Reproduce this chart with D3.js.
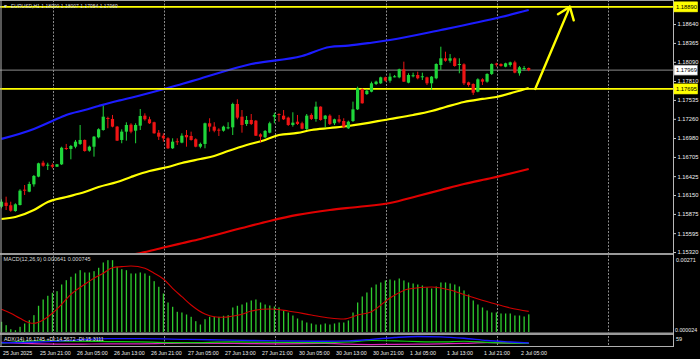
<!DOCTYPE html>
<html><head><meta charset="utf-8">
<script src="https://cdnjs.cloudflare.com/ajax/libs/d3/7.8.5/d3.min.js"></script>
<style>html,body{margin:0;padding:0;background:#000;overflow:hidden}text{font-family:"Liberation Sans",Arial,sans-serif}</style>
</head><body><svg id="c" width="700" height="359"></svg>
<script>
// ---------------- DATA ----------------
const chartTitle = "EURUSD,H1  1.18000 1.18007 1.17954 1.17969";
const macdTitle = "MACD(12,26,9) 0.000641 0.000745";
const adxTitle = "ADX(14) 16.1745 +DI:14.5672 -DI:15.3111";

const open = [1.15980,1.16039,1.16001,1.15917,1.16005,1.16228,1.16199,1.16306,1.16418,1.16621,
1.16583,1.16587,1.16563,1.16597,1.16835,1.16821,1.16854,1.16894,1.16952,1.16796,
1.16854,1.16991,1.17097,1.17272,1.17258,1.17146,1.16952,1.17073,1.17175,1.17087,
1.17160,1.17306,1.17253,1.17210,1.17058,1.17014,1.16976,1.16831,1.16933,1.16913,
1.17024,1.17010,1.16962,1.16854,1.16894,1.17195,1.17146,1.17102,1.17087,1.17127,
1.17136,1.17476,1.17291,1.17185,1.17243,1.17233,1.17034,1.16991,1.17058,1.17291,
1.17330,1.17306,1.17277,1.17170,1.17218,1.17195,1.17112,1.17316,1.17258,1.17437,
1.17258,1.17306,1.17195,1.17253,1.17228,1.17122,1.17228,1.17398,1.17694,1.17621,
1.17655,1.17767,1.17777,1.17864,1.17815,1.17869,1.17864,1.17981,1.17786,1.17883,
1.17898,1.17869,1.17864,1.17777,1.17850,1.18044,1.18141,1.18106,1.18141,1.18048,
1.18053,1.17791,1.17767,1.17655,1.17835,1.17801,1.17913,1.18063,1.18058,1.18019,
1.18044,1.18082,1.17923,1.17990,1.18000];
const high = [1.16088,1.16126,1.16053,1.16030,1.16234,1.16296,1.16344,1.16442,1.16621,1.16650,
1.16621,1.16612,1.16602,1.16854,1.16894,1.16879,1.16952,1.17170,1.16959,1.16869,
1.17010,1.17122,1.17451,1.17291,1.17316,1.17156,1.17107,1.17209,1.17195,1.17195,
1.17403,1.17340,1.17291,1.17218,1.17097,1.17049,1.16991,1.16976,1.16976,1.17049,
1.17097,1.17073,1.16976,1.16913,1.17204,1.17268,1.17210,1.17122,1.17160,1.17210,
1.17495,1.17544,1.17388,1.17301,1.17330,1.17243,1.17049,1.17097,1.17218,1.17349,
1.17340,1.17388,1.17291,1.17355,1.17316,1.17218,1.17330,1.17340,1.17510,1.17442,
1.17316,1.17326,1.17262,1.17316,1.17268,1.17233,1.17510,1.17728,1.17704,1.17690,
1.17801,1.17815,1.17874,1.17874,1.17923,1.17898,1.17990,1.18092,1.17923,1.17932,
1.17946,1.17932,1.17874,1.17883,1.18068,1.18310,1.18237,1.18203,1.18155,1.18141,
1.18068,1.17801,1.17777,1.17850,1.17850,1.17923,1.18068,1.18077,1.18068,1.18077,
1.18092,1.18106,1.18029,1.18029,1.18007];
const low = [1.15957,1.15932,1.15907,1.15907,1.15998,1.16151,1.16191,1.16272,1.16409,1.16563,
1.16515,1.16539,1.16558,1.16587,1.16806,1.16670,1.16831,1.16879,1.16781,1.16781,
1.16709,1.16976,1.17087,1.17122,1.17136,1.16937,1.16904,1.16942,1.17049,1.16904,
1.17097,1.17233,1.17185,1.17043,1.16952,1.16927,1.16821,1.16821,1.16879,1.16904,
1.16854,1.16942,1.16845,1.16831,1.16831,1.17073,1.17064,1.17010,1.17073,1.17107,
1.17024,1.17253,1.17058,1.17156,1.17170,1.17010,1.16918,1.16976,1.17049,1.17195,
1.17218,1.17243,1.17156,1.17146,1.17170,1.17107,1.17097,1.17243,1.17218,1.17233,
1.17136,1.17170,1.17170,1.17195,1.17122,1.17112,1.17214,1.17388,1.17481,1.17607,
1.17646,1.17752,1.17767,1.17801,1.17786,1.17864,1.17850,1.17796,1.17777,1.17864,
1.17835,1.17825,1.17752,1.17680,1.17835,1.17971,1.18092,1.18077,1.18019,1.17923,
1.17752,1.17728,1.17607,1.17646,1.17752,1.17786,1.17898,1.18019,1.18019,1.18010,
1.18019,1.17923,1.17888,1.17961,1.17954];
const close = [1.16053,1.15991,1.15922,1.16015,1.16214,1.16220,1.16311,1.16428,1.16612,1.16577,
1.16592,1.16563,1.16597,1.16839,1.16825,1.16864,1.16927,1.16952,1.16791,1.16854,
1.17000,1.17108,1.17291,1.17262,1.17146,1.16942,1.17073,1.17170,1.17073,1.17170,
1.17301,1.17253,1.17195,1.17049,1.17000,1.16976,1.16831,1.16927,1.16923,1.17014,
1.16991,1.16952,1.16854,1.16894,1.17195,1.17146,1.17087,1.17093,1.17146,1.17136,
1.17476,1.17277,1.17170,1.17243,1.17185,1.17014,1.17000,1.17083,1.17195,1.17316,
1.17320,1.17253,1.17170,1.17204,1.17185,1.17116,1.17306,1.17258,1.17437,1.17243,
1.17306,1.17185,1.17253,1.17218,1.17146,1.17218,1.17398,1.17704,1.17486,1.17670,
1.17777,1.17801,1.17864,1.17815,1.17874,1.17879,1.17981,1.17801,1.17898,1.17894,
1.17850,1.17879,1.17777,1.17874,1.18058,1.18141,1.18106,1.18141,1.18029,1.18058,
1.17777,1.17752,1.17640,1.17835,1.17801,1.17913,1.18058,1.18048,1.18029,1.18068,
1.18082,1.17932,1.18010,1.18000,1.17969];

// moving averages, sampled at bar indices
const blueMaBars = [0,7,11,14,18,21,25,26,39,42,54,65,71,75,80,84,95,108,114];
const blueMa = [1.16967,1.17112,1.17228,1.17316,1.17388,1.17447,1.17519,1.17534,1.17767,1.17825,1.18058,1.18174,1.18306,1.18325,1.18368,1.18408,1.18553,1.18742,1.18844];
const yellowMaBars = [0,3,7,10,14,18,21,25,28,32,36,39,43,46,49,53,57,60,64,67,71,75,84,89,93,96,100,104,107,111,114];
const yellowMa = [1.15801,1.15830,1.15932,1.16049,1.16122,1.16194,1.16267,1.16340,1.16413,1.16500,1.16559,1.16617,1.16675,1.16719,1.16791,1.16879,1.16952,1.17024,1.17054,1.17097,1.17126,1.17155,1.17257,1.17316,1.17374,1.17432,1.17505,1.17549,1.17578,1.17650,1.17709];
const redMaBars = [28,32,36,39,43,52,58,64,71,77,84,90,95,100,106,114];
const redMa = [1.15277,1.15335,1.15401,1.15448,1.15510,1.15670,1.15772,1.15860,1.15932,1.15976,1.16034,1.16136,1.16224,1.16311,1.16398,1.16529];

const levelLines = [1.18890, 1.17695];
const bidPrice = 1.17969;
const arrowFrom = {bar: 115.4, price: 1.17695};
const arrowTo = {bar: 122.9, price: 1.18890};

const priceTicks = [1.18640,1.18365,1.18090,1.17810,1.17535,1.17260,1.16980,1.16705,1.16425,1.16150,1.15875,1.15595,1.15320];
const dateTickBars = [0,8,16,24,32,40,48,56,64,72,80,88,96,104,112];
const dateTickLabels = ["25 Jun 2025","25 Jun 21:00","26 Jun 05:00","26 Jun 13:00","26 Jun 21:00","27 Jun 05:00","27 Jun 13:00","27 Jun 21:00","30 Jun 05:00","30 Jun 13:00","30 Jun 21:00","1 Jul 05:00","1 Jul 13:00","1 Jul 21:00","2 Jul 05:00"];

const macdHist = [0.000378,0.000258,0.000116,0.000081,0.000201,0.000318,0.000434,0.000611,0.000943,0.001165,
0.001296,0.001401,0.001458,0.001694,0.001846,0.001966,0.002083,0.002199,0.002118,0.002118,
0.002164,0.002284,0.002471,0.002552,0.002552,0.002319,0.002234,0.002199,0.002083,0.002083,
0.002118,0.002083,0.002002,0.001811,0.001613,0.001377,0.001059,0.000907,0.000731,0.000706,
0.000635,0.000554,0.000399,0.000282,0.000469,0.000554,0.000554,0.000554,0.000590,0.000611,
0.000883,0.000943,0.000988,0.001059,0.001130,0.001165,0.001059,0.000988,0.000953,0.000918,
0.000883,0.000777,0.000706,0.000600,0.000494,0.000424,0.000353,0.000318,0.000282,0.000282,
0.000318,0.000282,0.000318,0.000353,0.000353,0.000424,0.000706,0.001059,0.001271,0.001412,
0.001589,0.001694,0.001765,0.001836,0.001871,0.001836,0.001906,0.001836,0.001765,0.001730,
0.001694,0.001659,0.001589,0.001553,0.001624,0.001765,0.001765,0.001730,0.001694,0.001624,
0.001483,0.001341,0.001130,0.000988,0.000883,0.000777,0.000706,0.000706,0.000671,0.000671,
0.000671,0.000600,0.000600,0.000565,0.000641];
const signalBars = [0,2,4,6,7,9,11,13,15,18,20,22,24,26,28,31,33,35,37,39,41,44,46,48,50,52,54,58,62,67,71,74,77,80,84,88,93,97,101,106,110,114];
const signalVals = [0.000819,0.000678,0.000501,0.000346,0.000325,0.000441,0.000678,0.000995,0.001348,0.001700,0.001913,0.002090,0.002287,0.002323,0.002347,0.002266,0.002090,0.001889,0.001560,0.001264,0.000971,0.000650,0.000558,0.000537,0.000582,0.000642,0.000759,0.000830,0.000759,0.000618,0.000512,0.000477,0.000618,0.000734,0.001218,0.001536,0.001606,0.001500,0.001288,0.001041,0.000865,0.000745];
const macdTopLabel = "0.00271", macdZeroLabel = "0.000024";

const adxBars = [0,8,16,23,30,40,50,60,70,75,80,85,90,95,100,105,110,114];
const adxMain = [18,22,32,40,40,36,32,28,26,28,36,46,52,50,42,30,22,16.17];
const plusDI = [15,28,26,24,22,18,22,20,18,22,30,28,24,22,26,20,16,14.57];
const minusDI = [20,12,10,12,12,16,14,12,14,10,8,9,10,12,14,18,16,15.31];
const adxTopLabel = "59";

// ---------------- DRAW ----------------
const svg = d3.select("#c");
svg.append("rect").attr("width",700).attr("height",359).attr("fill","#000");
const PR = 673; // right edge of plot area
const x = d3.scaleLinear().domain([0,145.2]).range([1.5,PR]);
const yP = d3.scaleLinear().domain([1.15306,1.18990]).range([253,0]);
const yM = d3.scaleLinear().domain([0,0.00271]).range([332.5,255.7]);
const yA = d3.scaleLinear().domain([0,60]).range([346,335]);

const defs = svg.append("defs");
function clip(id,y0,y1){defs.append("clipPath").attr("id",id).append("rect").attr("x",0).attr("y",y0).attr("width",PR).attr("height",y1-y0);}
clip("cp",0,253); clip("cm",255,332); clip("ca",335,346);

// vertical dashed grid
const gridG = svg.append("g");
for(let k=0;k<6;k++){
  const gx = Math.round(x(11.14+24*k))+0.5;
  gridG.append("line").attr("x1",gx).attr("x2",gx).attr("y1",0).attr("y2",347)
    .attr("stroke","#8a8a8a").attr("stroke-width",1).attr("stroke-dasharray","2,1.5");
}

// price panel
const pg = svg.append("g").attr("clip-path","url(#cp)");
const maLine = (bars,vals) => d3.line().x((d,i)=>x(bars[i])).y(d=>yP(d)).curve(d3.curveMonotoneX)(vals);
pg.append("path").attr("d",maLine(blueMaBars,blueMa)).attr("fill","none").attr("stroke","#1c1cff").attr("stroke-width",2.2);
pg.append("path").attr("d",maLine(redMaBars,redMa)).attr("fill","none").attr("stroke","#e00000").attr("stroke-width",2.2);
pg.append("path").attr("d",maLine(yellowMaBars,yellowMa)).attr("fill","none").attr("stroke","#ffff00").attr("stroke-width",2.2);

// horizontal levels
pg.append("line").attr("x1",0).attr("x2",PR).attr("y1",yP(bidPrice)).attr("y2",yP(bidPrice)).attr("stroke","#8c8c8c").attr("stroke-width",1);
levelLines.forEach(l=>pg.append("line").attr("x1",0).attr("x2",PR).attr("y1",yP(l)).attr("y2",yP(l)).attr("stroke","#ffff00").attr("stroke-width",1.8));

// candles
const cg = pg.append("g");
open.forEach((o,i)=>{
  const c = close[i], up = c>=o, col = up ? "#1fd63a" : "#ee1414";
  const cx = x(i);
  cg.append("line").attr("x1",cx).attr("x2",cx).attr("y1",yP(high[i])).attr("y2",yP(low[i])).attr("stroke",col).attr("stroke-width",1);
  const yt = yP(Math.max(o,c)), yb = yP(Math.min(o,c));
  cg.append("rect").attr("x",cx-1.6).attr("width",3.2).attr("y",yt).attr("height",Math.max(1,yb-yt)).attr("fill",col);
});

// arrow
const ag = svg.append("g").attr("stroke","#ffff00").attr("stroke-width",2.4).attr("stroke-linecap","round").attr("fill","none");
const ax0=x(arrowFrom.bar), ay0=yP(arrowFrom.price), ax1=x(arrowTo.bar), ay1=yP(arrowTo.price);
ag.append("line").attr("x1",ax0).attr("y1",ay0).attr("x2",ax1).attr("y2",ay1);
const ang = Math.atan2(ay0-ay1, ax0-ax1);
[-0.68,0.62].forEach(da=>{
  ag.append("line").attr("x1",ax1).attr("y1",ay1).attr("x2",ax1+14*Math.cos(ang+da)).attr("y2",ay1+14*Math.sin(ang+da));
});

// title
svg.append("text").attr("x",3).attr("y",7.5).attr("font-size",5).attr("fill","#d8d8d8").text("▼");
svg.append("text").attr("x",11).attr("y",7.8).attr("font-size",5).attr("fill","#d8d8d8").text(chartTitle);

// MACD panel
const mg = svg.append("g").attr("clip-path","url(#cm)");
macdHist.forEach((v,i)=>{
  mg.append("rect").attr("x",x(i)-0.6).attr("width",1.3).attr("y",yM(v)).attr("height",yM(0)-yM(v)).attr("fill","#2ecc2e");
});
mg.append("path").attr("d",d3.line().x((d,i)=>x(signalBars[i])).y(d=>yM(d)).curve(d3.curveMonotoneX)(signalVals))
  .attr("fill","none").attr("stroke","#d00000").attr("stroke-width",1.1);
svg.append("text").attr("x",3.5).attr("y",261).attr("font-size",5.5).attr("fill","#d8d8d8").text(macdTitle);

// ADX panel
const adg = svg.append("g").attr("clip-path","url(#ca)");
const adxLine = vals => d3.line().x((d,i)=>x(adxBars[i])).y(d=>yA(d)).curve(d3.curveMonotoneX)(vals);
adg.append("path").attr("d",adxLine(minusDI)).attr("fill","none").attr("stroke","#e020c0").attr("stroke-width",1.2);
adg.append("path").attr("d",adxLine(plusDI)).attr("fill","none").attr("stroke","#10d010").attr("stroke-width",1.2);
adg.append("path").attr("d",adxLine(adxMain)).attr("fill","none").attr("stroke","#1a1aff").attr("stroke-width",1.4);
svg.append("text").attr("x",4).attr("y",341).attr("font-size",5.3).attr("fill","#e8e8e8").text(adxTitle);

// separators & frame
const fg = svg.append("g");
fg.append("line").attr("x1",0).attr("x2",PR).attr("y1",0.5).attr("y2",0.5).attr("stroke","#a0a0a0");
fg.append("rect").attr("x",0).attr("y",253).attr("width",PR).attr("height",2).attr("fill","#9a9a9a");
fg.append("rect").attr("x",0).attr("y",332.5).attr("width",PR).attr("height",2.5).attr("fill","#9a9a9a");
fg.append("line").attr("x1",0).attr("x2",PR+0.5).attr("y1",346.5).attr("y2",346.5).attr("stroke","#b0b0b0");
fg.append("line").attr("x1",1).attr("x2",1).attr("y1",0).attr("y2",347).attr("stroke","#b0b0b0");
fg.append("line").attr("x1",PR+0.5).attr("x2",PR+0.5).attr("y1",0).attr("y2",347).attr("stroke","#b8b8b8");

// price axis
const pax = svg.append("g").attr("transform",`translate(${PR+0.5},0)`)
  .call(d3.axisRight(yP).tickValues(priceTicks).tickSize(2.5).tickPadding(1.5).tickFormat(d3.format(".5f")));
pax.select(".domain").remove();
pax.selectAll("line").attr("stroke","#c8c8c8");
pax.selectAll("text").attr("font-size",5.8).attr("fill","#f0f0f0").attr("font-family","Liberation Sans, Arial, sans-serif");

// highlighted price labels
function tag(p,bg){
  const yy = yP(p);
  svg.append("rect").attr("x",PR+1).attr("y",yy-5).attr("width",23.5).attr("height",10).attr("fill",bg).attr("stroke",bg==="#ffffff"?"#808080":bg).attr("stroke-width",0.6);
  svg.append("text").attr("x",PR+3).attr("y",yy+2.1).attr("font-size",5.8).attr("fill","#000").text(d3.format(".5f")(p));
}
tag(levelLines[0],"#ffff00");
tag(bidPrice,"#ffffff");
tag(levelLines[1],"#ffff00");

// MACD & ADX axis labels
svg.append("text").attr("x",PR+3).attr("y",262).attr("font-size",5.5).attr("fill","#f0f0f0").text(macdTopLabel);
svg.append("text").attr("x",PR+2).attr("y",331.5).attr("font-size",5.3).attr("fill","#f0f0f0").text(macdZeroLabel);
svg.append("text").attr("x",PR+3).attr("y",341).attr("font-size",5.5).attr("fill","#f0f0f0").text(adxTopLabel);

// date axis
const dax = svg.append("g").attr("transform","translate(0,347)")
  .call(d3.axisBottom(x).tickValues(dateTickBars).tickSize(0).tickPadding(0).tickFormat((d,i)=>dateTickLabels[i]));
dax.select(".domain").remove();
dax.selectAll("text").attr("text-anchor","start").attr("dx",1).attr("dy",0).attr("y",7.5)
  .attr("font-size",5.3).attr("fill","#f0f0f0").attr("font-family","Liberation Sans, Arial, sans-serif");
</script></body></html>
